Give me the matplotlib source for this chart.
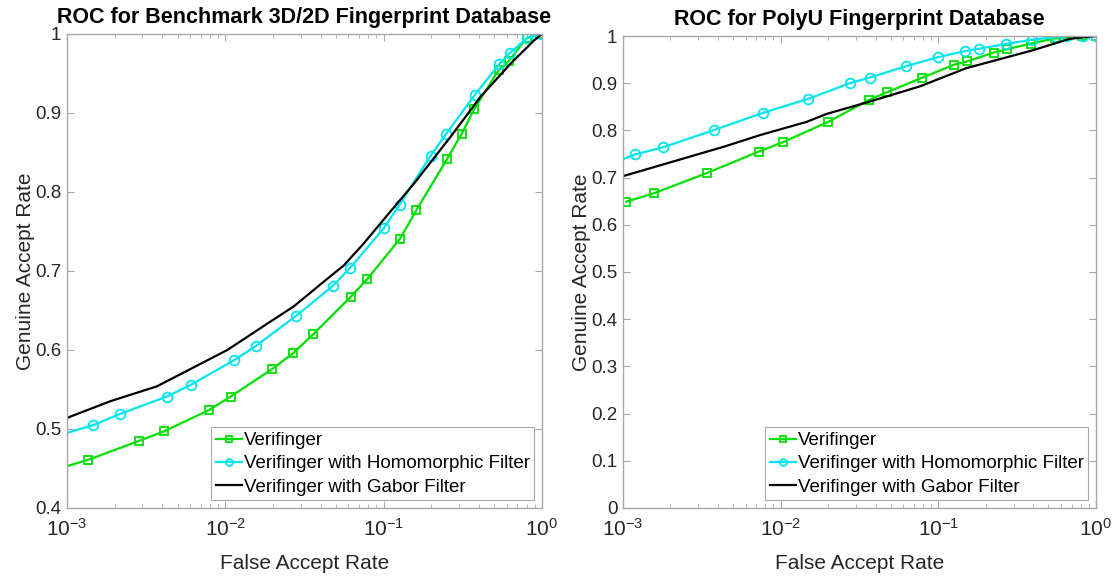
import numpy as np
import matplotlib.pyplot as plt
from matplotlib.ticker import LogLocator, NullFormatter, FixedLocator

plt.rcParams['font.family'] = ['Liberation Sans', 'DejaVu Sans']
plt.rcParams['mathtext.fontset'] = 'custom'
plt.rcParams['mathtext.rm'] = 'Liberation Sans'
plt.rcParams['mathtext.it'] = 'Liberation Sans:italic'

# Benchmark 3D/2D database (left)
b_far_vf = [1e-3, 1.36e-3, 2.86e-3, 4.09e-3, 7.9e-3, 1.08e-2, 1.98e-2, 2.68e-2, 3.6e-2,
            6.18e-2, 7.9e-2, 0.127, 0.161, 0.252, 0.312, 0.373, 0.532, 0.618, 0.80, 1.0]
b_gar_vf = [0.453, 0.461, 0.485, 0.497, 0.524, 0.541, 0.576, 0.596, 0.620,
            0.667, 0.690, 0.741, 0.777, 0.842, 0.874, 0.905, 0.954, 0.966, 0.995, 1.0]
b_far_hf = [1e-3, 1.47e-3, 2.16e-3, 4.27e-3, 6.07e-3, 1.135e-2, 1.56e-2, 2.79e-2, 4.77e-2,
            6.15e-2, 0.1, 0.126, 0.198, 0.249, 0.377, 0.537, 0.627, 0.81, 1.0]
b_gar_hf = [0.495, 0.505, 0.519, 0.541, 0.556, 0.587, 0.605, 0.643, 0.681,
            0.704, 0.754, 0.784, 0.846, 0.874, 0.923, 0.962, 0.976, 0.995, 1.0]
b_far_gb = [1e-3, 1.87e-3, 3.7e-3, 1.03e-2, 1.93e-2, 2.7e-2, 4.4e-2, 5.6e-2, 7.5e-2,
            0.1, 0.156, 0.265, 0.411, 0.637, 0.893, 1.0]
b_gar_gb = [0.514, 0.535, 0.554, 0.600, 0.636, 0.655, 0.690, 0.707, 0.735,
            0.765, 0.811, 0.870, 0.921, 0.963, 0.992, 1.0]

# PolyU database (right)
p_far_vf = [1.05e-3, 1.58e-3, 3.43e-3, 7.25e-3, 1.035e-2, 2.0e-2, 3.61e-2, 4.74e-2, 7.94e-2,
            0.1255, 0.152, 0.225, 0.272, 0.388, 0.548, 0.818, 1.0]
p_gar_vf = [0.649, 0.667, 0.710, 0.755, 0.775, 0.818, 0.864, 0.881, 0.912,
            0.939, 0.946, 0.965, 0.972, 0.984, 0.995, 1.0, 1.0]
p_far_hf = [1e-3, 1.19e-3, 1.79e-3, 3.8e-3, 7.69e-3, 1.5e-2, 2.75e-2, 3.68e-2, 6.24e-2,
            9.9e-2, 0.148, 0.181, 0.267, 0.391, 0.555, 0.652, 0.83, 1.0]
p_gar_hf = [0.739, 0.749, 0.764, 0.801, 0.837, 0.867, 0.900, 0.912, 0.936,
            0.955, 0.968, 0.973, 0.983, 0.992, 0.998, 1.0, 1.0, 1.0]
p_far_gb = [1e-3, 1.89e-3, 4.32e-3, 7.4e-3, 1.46e-2, 1.96e-2, 3.5e-2, 7.6e-2,
            0.151, 0.40, 0.68, 1.0]
p_gar_gb = [0.703, 0.730, 0.765, 0.790, 0.818, 0.835, 0.859, 0.893,
            0.932, 0.970, 0.994, 1.0]

green = '#00e000'
cyan = '#00e6f0'
txt = '#262626'
edge = '#a8a8a8'


def style_axes(ax, yticks, ylim, yfmt):
    ax.set_xscale('log')
    ax.set_xlim(1e-3, 1)
    ax.set_ylim(*ylim)
    ax.xaxis.set_major_locator(FixedLocator([1e-3, 1e-2, 1e-1, 1]))
    ax.xaxis.set_minor_locator(LogLocator(base=10, subs=np.arange(2, 10), numticks=20))
    ax.xaxis.set_minor_formatter(NullFormatter())
    ax.set_xticklabels([r'$10^{-3}$', r'$10^{-2}$', r'$10^{-1}$', r'$10^{0}$'])
    ax.set_yticks(yticks)
    ax.set_yticklabels([yfmt(v) for v in yticks])
    ax.tick_params(which='both', direction='in', top=True, right=True,
                   color=edge, labelcolor=txt, labelsize=13.5)
    ax.tick_params(axis='x', which='major', labelsize=15, pad=7)
    ax.tick_params(axis='y', pad=4)
    ax.tick_params(which='major', length=5)
    ax.tick_params(which='minor', length=3)
    for s in ax.spines.values():
        s.set_color(edge)
        s.set_linewidth(1.0)
    ax.set_xlabel('False Accept Rate', fontsize=15, color=txt, labelpad=10)
    ax.set_ylabel('Genuine Accept Rate', fontsize=15, color=txt, labelpad=0)


def draw(ax, fv, gv, fh, gh, fg, gg, skip_first_vf, title):
    mv = range(1, len(fv)) if skip_first_vf else None
    ax.plot(fv, gv, color=green, lw=1.6, marker='s', ms=5.5, mfc='none', mew=1.3,
            markevery=mv, label='Verifinger')
    ax.plot(fh, gh, color=cyan, lw=1.6, marker='o', ms=7, mfc='none', mew=1.3,
            markevery=range(1, len(fh)), label='Verifinger with Homomorphic Filter')
    ax.plot(fg, gg, color='black', lw=1.6, label='Verifinger with Gabor Filter')
    ax.set_title(title, fontsize=15.5, fontweight='bold', color='black', pad=8)
    leg = ax.legend(loc='lower right', fontsize=13.5, handlelength=1.4, handletextpad=0.1,
                    borderpad=0.25, labelspacing=0.33, borderaxespad=0.4, fancybox=False,
                    framealpha=1, edgecolor=edge, markerscale=0.7)
    leg.get_frame().set_linewidth(0.8)
    for t in leg.get_texts():
        t.set_color('black')


fig = plt.figure(figsize=(11.14, 5.77), dpi=100)
ax1 = fig.add_axes([0.0601, 0.1196, 0.4264, 0.8215])
ax2 = fig.add_axes([0.5592, 0.1196, 0.4246, 0.818])

draw(ax1, b_far_vf, b_gar_vf, b_far_hf, b_gar_hf, b_far_gb, b_gar_gb, True,
     'ROC for Benchmark 3D/2D Fingerprint Database')
style_axes(ax1, np.round(np.arange(0.4, 1.01, 0.1), 1), (0.4, 1.0),
           lambda v: '1' if v == 1 else f'{v:.1f}')

draw(ax2, p_far_vf, p_gar_vf, p_far_hf, p_gar_hf, p_far_gb, p_gar_gb, False,
     'ROC for PolyU Fingerprint Database')
style_axes(ax2, np.round(np.arange(0, 1.01, 0.1), 1), (0, 1.0),
           lambda v: '0' if v == 0 else ('1' if v == 1 else f'{v:.1f}'))

fig.savefig('out.png', dpi=100)
